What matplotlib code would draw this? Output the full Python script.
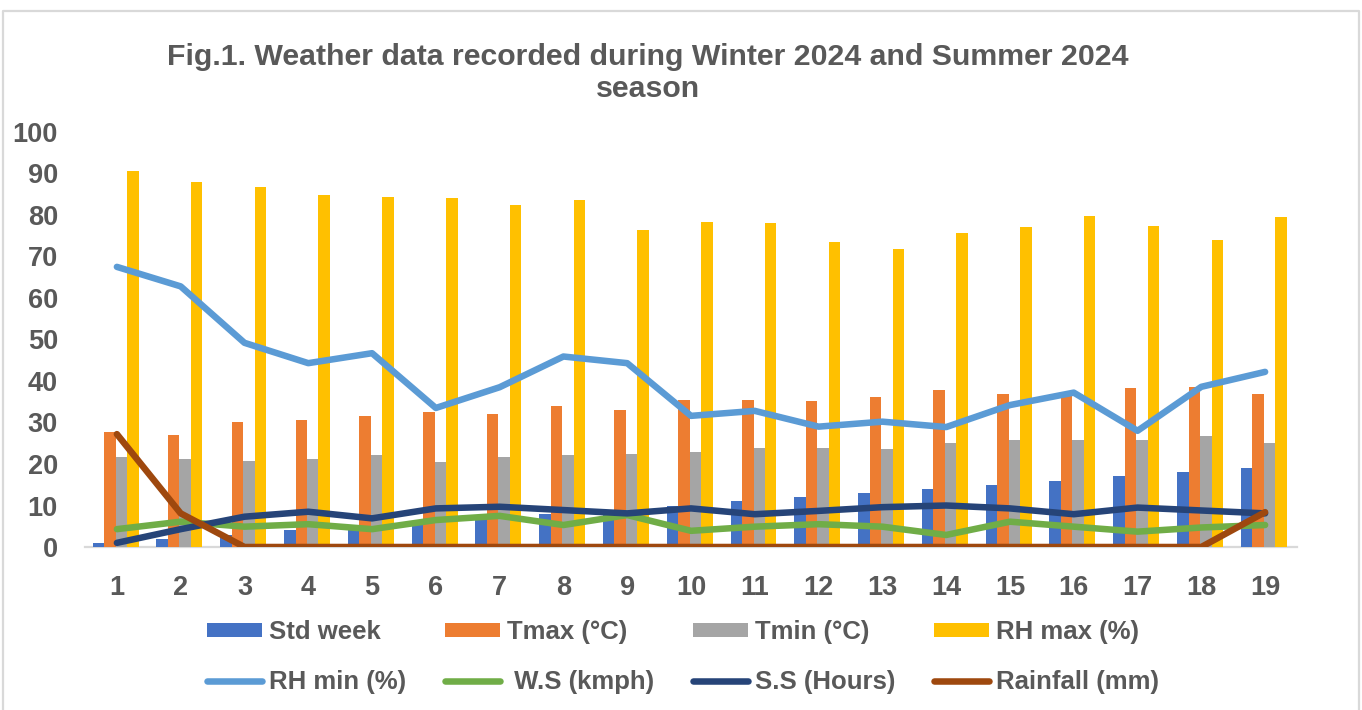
import matplotlib
matplotlib.use('Agg')
import matplotlib.pyplot as plt
from matplotlib.patches import Patch
from matplotlib.lines import Line2D
import numpy as np

plt.rcParams['font.family'] = ['Liberation Sans', 'DejaVu Sans']
plt.rcParams['font.weight'] = 'bold'

weeks = ['1', '2', '3', '4', '5', '6', '7', '8', '9', '10',
         '11', '12', '13', '14', '15', '16', '17', '18', '19']
std_week = [1, 2, 3, 4, 5, 6, 7, 8, 9, 10, 11, 12, 13, 14, 15, 16, 17, 18, 19]
tmax = [27.6, 27.1, 30.2, 30.5, 31.6, 32.6, 32.0, 34.0, 33.0, 35.4,
        35.4, 35.1, 36.1, 37.9, 36.9, 36.6, 38.2, 38.6, 36.9]
tmin = [21.8, 21.1, 20.8, 21.1, 22.2, 20.4, 21.8, 22.2, 22.5, 22.9,
        23.9, 23.9, 23.5, 25.0, 25.8, 25.8, 25.8, 26.7, 25.0]
rh_max = [90.7, 87.9, 86.8, 84.7, 84.3, 84.0, 82.3, 83.6, 76.3, 78.4,
          78.0, 73.5, 71.7, 75.6, 77.0, 79.8, 77.3, 74.0, 79.5]
rh_min = [67.5, 62.8, 49.2, 44.3, 46.7, 33.5, 38.5, 45.9, 44.3, 31.6,
          32.8, 29.0, 30.2, 28.9, 34.2, 37.2, 28.0, 38.6, 42.2]
wind_speed = [4.3, 6.1, 4.9, 5.5, 4.3, 6.5, 7.5, 5.3, 7.7, 3.9,
              4.9, 5.5, 4.9, 2.9, 6.1, 4.9, 3.7, 4.7, 5.3]
sunshine = [1.0, 4.3, 7.3, 8.5, 6.9, 9.3, 9.7, 8.9, 8.1, 9.3,
            7.9, 8.7, 9.6, 10.0, 9.3, 7.9, 9.5, 8.8, 8.1]
rainfall = [27.2, 8.1, 0, 0, 0, 0, 0, 0, 0, 0,
            0, 0, 0, 0, 0, 0, 0, 0, 8.4]

bar_labels = ['Std week', 'Tmax (°C)', 'Tmin (°C)', 'RH max (%)']
line_labels = ['RH min (%)', ' W.S (kmph)', 'S.S (Hours)', 'Rainfall (mm)']
bar_colors = ['#4472C4', '#ED7D31', '#A5A5A5', '#FFC000']
line_colors = ['#5B9BD5', '#70AD47', '#264478', '#9E480E']
TXT = '#595959'

W, H = 1362, 710
fig = plt.figure(figsize=(W / 100, H / 100), dpi=100)
ax = fig.add_axes([85 / W, 1 - 547 / H, (1297 - 85) / W, (547 - 132) / H])

x = np.arange(1, len(weeks) + 1)
bw = 0.18
bar_series = [std_week, tmax, tmin, rh_max]
for i, (vals, col) in enumerate(zip(bar_series, bar_colors)):
    ax.bar(x + (i - 1.5) * bw - 0.02, vals, width=bw, color=col, zorder=2)

line_series = [rh_min, wind_speed, sunshine, rainfall]
for vals, col in zip(line_series, line_colors):
    ax.plot(x, vals, color=col, lw=4.7, solid_capstyle='round',
            solid_joinstyle='round', zorder=3)

ax.set_xlim(0.5, 19.5)
ax.set_ylim(0, 100)
ax.set_yticks(range(0, 101, 10))
ax.set_xticks(x)
ax.set_xticklabels(weeks)
for s in ['top', 'right', 'left']:
    ax.spines[s].set_visible(False)
ax.spines['bottom'].set_color('#D9D9D9')
ax.spines['bottom'].set_linewidth(1.6)
ax.spines['bottom'].set_zorder(1)
ax.tick_params(axis='y', length=0, pad=19.5, labelsize=19.5, labelcolor=TXT)
ax.tick_params(axis='x', length=0, pad=20, labelsize=19.5, labelcolor=TXT)

fig.text(648 / W, 1 - 73 / H,
         'Fig.1. Weather data recorded during Winter 2024 and Summer 2024\nseason',
         ha='center', va='center', fontsize=21.8, color=TXT, linespacing=1.2,
         fontweight='bold')

# legend entries ordered so that rows read: bars, then lines
handles = []
labels = []
for blab, bcol, llab, lcol in zip(bar_labels, bar_colors, line_labels, line_colors):
    handles.append(Patch(facecolor=bcol, edgecolor='none'))
    labels.append(blab)
    handles.append(Line2D([0], [0], color=lcol, lw=4.7, solid_capstyle='round'))
    labels.append(llab)

leg = fig.legend(handles, labels, ncol=4, loc='center',
                 bbox_to_anchor=(683 / W, 1 - 657 / H), frameon=False,
                 fontsize=18.5, handlelength=2.15, handleheight=0.5,
                 handletextpad=0.27, columnspacing=1.5, labelspacing=1.0)
for t in leg.get_texts():
    t.set_color(TXT)

border = Line2D([3 / W, 3 / W, 1359 / W, 1359 / W],
                [-0.01, 1 - 11 / H, 1 - 11 / H, -0.01],
                color='#D9D9D9', lw=1.6, transform=fig.transFigure)
fig.add_artist(border)

fig.savefig('out.png', dpi=100, facecolor='white')
